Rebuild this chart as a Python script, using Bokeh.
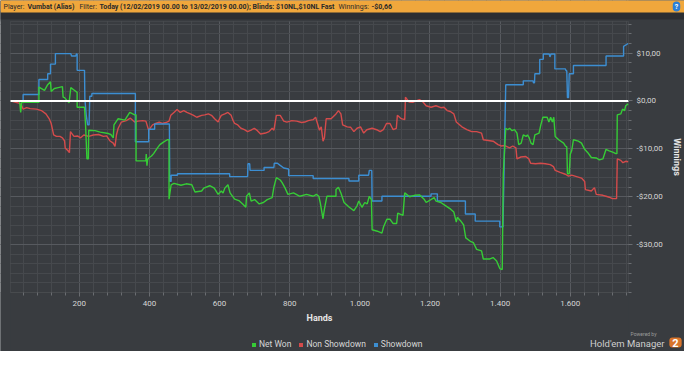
from bokeh.plotting import figure
from bokeh.models import Range1d, FixedTicker, Legend, LegendItem, Label, BoxAnnotation
from bokeh.embed import file_html
from bokeh.resources import INLINE

# ---------------- data ----------------
showdown_hands = [6, 40, 40, 85, 85, 110, 110, 118, 118, 132, 132, 176, 178, 190, 192, 194, 194, 215, 216, 220,
                  224, 228, 230, 236, 236, 360, 360, 398, 398, 415, 415, 457, 458, 462, 462, 480, 480, 629, 629, 680,
                  681, 686, 687, 727, 727, 755, 756, 765, 772, 783, 797, 797, 867, 867, 969, 969, 997, 997, 1025, 1027,
                  1034, 1035, 1063, 1063, 1203, 1203, 1221, 1221, 1301, 1301, 1329, 1329, 1399, 1399, 1408, 1416, 1466,
                  1466, 1494, 1495, 1498, 1499, 1513, 1513, 1523, 1523, 1540, 1542, 1545, 1556, 1556, 1586, 1588, 1590,
                  1592, 1595, 1597, 1609, 1609, 1702, 1702, 1752, 1752, 1765]
showdown_won = [0, 0, 1.35, 1.35, 4.5, 4.5, 5.7, 5.7, 7.7, 7.7, 9.9, 9.9, 9.4, 9.4, 9.8, 9.8, 6.4, 6.4, 0.5, -3,
                -5, -5, 1, 1, 1.55, 1.55, -8.5, -8.5, -5.9, -5.9, -4.8, -4.8, -16.8, -16.8, -15.5, -15.5, -15.2, -15.2, -15.8, -15.8,
                -13.1, -13.1, -14.5, -14.5, -13.9, -13.9, -13.0, -13.0, -13.4, -14.0, -14.2, -15.6, -15.6, -16.2, -16.2, -16.7, -16.7, -15.5, -15.5, -14.5,
                -14.5, -20.9, -20.9, -19.9, -19.9, -19.4, -19.4, -20.9, -20.9, -23.6, -23.6, -25.1, -25.1, -26.3, -26.3, 3.4, 3.4,
                4.2, 4.2, 3.8, 3.8, 5.7, 5.7, 8.7, 8.7, 9.8, 9.8, 9.2, 9.8, 9.8, 6.7, 6.7, 6.3, 6.3,
                0.7, 0.7, 5.7, 5.7, 7.4, 7.4, 9.4, 9.4, 11.4, 12.0]

net_hands = [6, 30, 33, 36, 85, 85, 101, 110, 118, 120, 129, 140, 152, 154, 158, 171, 176, 185, 194, 194,
             215, 218, 222, 226, 227, 245, 260, 283, 290, 297, 299, 311, 330, 344, 358, 362, 362, 390, 391, 393,
             395, 400, 406, 412, 423, 430, 440, 451, 456, 456, 462, 470, 490, 505, 521, 530, 549, 555, 572, 585,
             596, 605, 610, 615, 624, 630, 643, 655, 666, 675, 677, 685, 690, 700, 713, 725, 736, 750, 755, 762,
             773, 778, 787, 795, 811, 829, 848, 867, 876, 883, 887, 895, 899, 906, 932, 932, 939, 946, 955, 970,
             983, 992, 997, 1006, 1014, 1021, 1027, 1033, 1035, 1050, 1063, 1068, 1077, 1086, 1095, 1105, 1108, 1123, 1128, 1142,
             1156, 1170, 1184, 1189, 1212, 1217, 1231, 1245, 1259, 1268, 1275, 1278, 1287, 1296, 1302, 1315, 1324, 1333, 1347, 1352,
             1371, 1380, 1390, 1399, 1406, 1409, 1416, 1422, 1427, 1434, 1441, 1448, 1453, 1460, 1466, 1474, 1478, 1483, 1488, 1494,
             1499, 1511, 1516, 1522, 1534, 1539, 1544, 1549, 1553, 1557, 1567, 1581, 1586, 1590, 1592, 1597, 1600, 1604, 1609, 1623,
             1632, 1641, 1650, 1660, 1674, 1683, 1693, 1702, 1711, 1721, 1730, 1733, 1734, 1744, 1749, 1755, 1758, 1765]
net_won = [0, 0, -2.4, -0.3, -0.3, 2.9, 2.2, 3.4, 4.0, 2.0, 2.6, 2.8, 3.0, 0.8, 0.7, -0.4, 2.8, 2.3, 1.8, -1.3,
           -1.3, -5.0, -12.1, -12.1, -6.1, -6.2, -6.5, -6.8, -7.0, -7.7, -5.0, -3.7, -4.0, -2.4, -2.9, -2.9, -12.5, -12.5, -11.1, -13.5,
           -12.2, -11.8, -11.5, -11.0, -9.8, -9.1, -8.6, -8.1, -8.1, -20.5, -17.5, -17.2, -17.6, -17.3, -17.5, -19.0, -18.8, -18.2, -17.7, -18.2,
           -19.5, -18.8, -19.2, -18.2, -17.5, -19.2, -20.5, -20.8, -21.5, -22.2, -19.9, -19.2, -20.9, -20.6, -21.5, -21.2, -20.6, -20.2, -18.0, -16.0,
           -16.5, -17.0, -18.2, -19.5, -19.2, -19.9, -19.5, -19.9, -19.5, -19.9, -21.2, -24.6, -22.6, -19.9, -19.9, -18.5, -18.0, -19.2, -21.2, -22.2,
           -22.9, -21.9, -20.9, -22.2, -21.2, -21.5, -19.9, -20.6, -26.9, -27.2, -27.6, -26.2, -24.7, -24.7, -25.6, -25.6, -23.4, -23.9, -19.2, -20.0,
           -19.7, -19.6, -20.6, -21.2, -20.2, -20.9, -21.2, -21.9, -22.6, -23.2, -25.3, -24.3, -25.0, -25.9, -28.6, -29.3, -29.6, -31.0, -31.3, -33.0,
           -33.0, -32.7, -33.4, -35.0, -35.2, -15.2, -5.7, -6.0, -5.7, -6.2, -6.0, -6.7, -9.1, -8.8, -7.1, -7.4, -7.1, -7.7, -8.8, -9.1,
           -7.1, -6.7, -5.0, -3.4, -3.4, -4.4, -3.4, -4.4, -3.4, -7.4, -8.1, -8.8, -9.4, -9.6, -15.2, -15.2, -11.1, -10.4, -8.1, -8.4,
           -8.8, -10.1, -10.8, -11.8, -11.9, -12.3, -12.1, -10.1, -10.4, -10.7, -11.0, -11.0, -2.9, -2.7, -1.7, -2.0, -1.0, -0.6]

nonsd_hands = [6, 30, 36, 40, 50, 60, 78, 92, 105, 115, 120, 127, 135, 145, 152, 158, 160, 168, 172, 175,
               178, 185, 195, 204, 213, 227, 240, 255, 269, 278, 287, 297, 302, 306, 311, 320, 334, 346, 358, 367,
               381, 390, 398, 409, 418, 428, 437, 447, 456, 461, 470, 479, 488, 498, 507, 517, 526, 535, 549, 558,
               568, 577, 586, 596, 600, 605, 615, 624, 633, 638, 643, 652, 661, 671, 680, 690, 699, 708, 717, 731,
               741, 750, 755, 762, 773, 783, 792, 806, 820, 834, 843, 853, 867, 874, 878, 885, 890, 895, 899, 904,
               918, 932, 939, 946, 951, 964, 974, 983, 992, 1002, 1011, 1020, 1035, 1048, 1058, 1067, 1076, 1086, 1095, 1104,
               1107, 1118, 1128, 1130, 1140, 1151, 1160, 1170, 1180, 1189, 1203, 1217, 1231, 1240, 1249, 1258, 1268, 1275, 1280, 1291,
               1305, 1319, 1333, 1347, 1352, 1371, 1380, 1394, 1403, 1413, 1427, 1436, 1445, 1448, 1459, 1473, 1482, 1487, 1501, 1515,
               1529, 1543, 1552, 1557, 1571, 1586, 1595, 1604, 1618, 1632, 1641, 1643, 1660, 1669, 1674, 1693, 1702, 1711, 1720, 1732,
               1734, 1744, 1750, 1758, 1765]
nonsd_won = [0, -0.5, -1.0, -1.7, -1.4, -1.6, -1.7, -2.0, -2.7, -3.8, -4.7, -7.1, -7.4, -7.4, -7.7, -8.3, -9.8, -10.4, -10.8, -6.4,
             -6.7, -7.4, -7.3, -7.7, -7.1, -7.4, -7.1, -7.0, -7.4, -7.3, -8.3, -8.8, -9.5, -7.1, -5.7, -4.4, -4.1, -3.6, -4.4, -4.2,
             -4.1, -4.2, -6.1, -5.0, -4.7, -4.4, -4.7, -4.5, -4.2, -3.0, -2.4, -1.8, -2.4, -2.0, -2.4, -2.7, -3.0, -3.4, -3.0, -2.9,
             -2.7, -3.0, -3.7, -4.4, -3.7, -3.0, -2.7, -2.4, -3.0, -4.0, -4.7, -5.0, -5.7, -6.0, -6.4, -6.1, -5.7, -6.2, -6.9, -6.7,
             -6.4, -5.7, -6.1, -3.0, -3.0, -4.2, -4.4, -4.1, -4.2, -4.5, -4.4, -4.1, -3.9, -3.4, -4.4, -6.1, -5.4, -8.4, -7.7, -3.7,
             -3.7, -2.7, -2.0, -2.7, -5.0, -5.4, -5.5, -6.4, -5.7, -5.4, -6.7, -6.0, -5.7, -6.0, -6.4, -6.0, -4.7, -4.7, -6.0, -5.7,
             -3.0, -3.7, -3.9, 0.8, -0.2, -0.3, 0.0, 0.3, -0.2, -1.0, -1.3, -1.0, -1.4, -1.3, -2.0, -2.2, -2.7, -4.4, -4.7, -5.4,
             -6.0, -6.4, -6.4, -6.7, -8.1, -8.3, -8.4, -9.1, -9.4, -9.3, -9.8, -9.4, -9.8, -12.1, -11.7, -11.6, -12.1, -13.0, -13.1, -13.0,
             -13.1, -13.3, -13.7, -14.5, -14.9, -15.3, -15.7, -15.5, -15.8, -16.1, -16.8, -18.5, -18.8, -18.1, -19.5, -19.7, -19.9, -20.1, -20.4, -20.4,
             -12.1, -12.4, -12.9, -12.6, -12.7]

series_names = ["Net Won", "Non Showdown", "Showdown"]
x_ticks = [200, 400, 600, 800, 1000, 1200, 1400, 1600]
x_tick_labels = ["200", "400", "600", "800", "1.000", "1.200", "1.400", "1.600"]
y_ticks = [-30, -20, -10, 0, 10]
y_tick_labels = ["-$30,00", "-$20,00", "-$10,00", "$0,00", "$10,00"]

# ---------------- style / layout ----------------
BG = "#393c40"
STRIP = "#2c2e32"
ORANGE = "#f0a73c"
GREEN = "#36cc36"
RED = "#d44b4b"
BLUE = "#3c8ed2"
TXT = "#d6d6d6"
FONT = "Roboto"

W, H = 684, 351                       # canvas
CL, CR, CT, CB = 10, 628, 21, 292     # chart box in canvas pixels
X_LO, X_HI, Y_LO, Y_HI = 4, 1766, -40, 16.6
xpp = (X_HI - X_LO) / (CR - CL)
ypp = (Y_HI - Y_LO) / (CB - CT)

p = figure(frame_width=W, frame_height=H,
           x_range=Range1d(X_LO - CL * xpp, X_HI + (W - CR) * xpp),
           y_range=Range1d(Y_LO - (H - CB) * ypp, Y_HI + CT * ypp),
           toolbar_location=None, output_backend="svg", y_axis_location="right", min_border=0)
p.background_fill_color = BG
p.border_fill_color = BG
p.outline_line_color = None

x_minor = list(range(40, 1761, 40))
y_minor = list(range(-40, 17, 2))
p.xaxis.ticker = FixedTicker(ticks=x_ticks, minor_ticks=x_minor)
p.yaxis.ticker = FixedTicker(ticks=y_ticks, minor_ticks=y_minor)
p.xaxis.major_label_overrides = dict(zip(x_ticks, x_tick_labels))
p.yaxis.major_label_overrides = dict(zip(y_ticks, y_tick_labels))
p.xaxis.fixed_location = Y_LO
p.yaxis.fixed_location = X_HI
p.xaxis.bounds = (X_LO, X_HI)
p.yaxis.bounds = (Y_LO, Y_HI)

for g in (p.xgrid, p.ygrid):
    g.grid_line_color = "#575a5f"
    g.minor_grid_line_color = "#46494d"

# mask grid outside the chart box, then draw the chart border
for kw in (dict(bottom=Y_HI), dict(top=Y_LO), dict(right=X_LO), dict(left=X_HI)):
    p.add_layout(BoxAnnotation(fill_color=BG, fill_alpha=1, line_color=None, level="underlay", **kw))
p.add_layout(BoxAnnotation(left=X_LO, right=X_HI, bottom=Y_LO, top=Y_HI, fill_alpha=0,
                           line_color="#5c5f63", line_width=1, level="underlay"))

for ax in (p.xaxis, p.yaxis):
    ax.axis_line_color = None
    ax.major_tick_line_color = "#6a6d71"
    ax.minor_tick_line_color = "#6a6d71"
    ax.major_tick_in = 0
    ax.minor_tick_in = 0
    ax.major_tick_out = 4
    ax.minor_tick_out = 3
    ax.major_label_text_color = TXT
    ax.major_label_text_font = FONT
    ax.major_label_text_font_size = "8px"
    ax.axis_label_text_color = "#e6e6e6"
    ax.axis_label_text_font = FONT
    ax.axis_label_text_font_size = "9px"
    ax.axis_label_text_font_style = "bold"

p.xaxis.axis_label = "Hands"
p.xaxis.major_label_standoff = 4
p.xaxis.axis_label_standoff = 4
p.yaxis.axis_label = "Winnings"
p.yaxis.major_label_standoff = 4
p.yaxis.axis_label_standoff = 6

p.line(nonsd_hands, nonsd_won, line_color=RED, line_width=1.4)
p.line(showdown_hands, showdown_won, line_color=BLUE, line_width=1.4)
p.line(net_hands, net_won, line_color=GREEN, line_width=1.4)
p.line([X_LO, X_HI], [0, 0], line_color="white", line_width=2)

# legend swatches: zero-area quads at each series' last point (invisible on the chart)
sq = []
for name, col, hx, wy in zip(series_names, [GREEN, RED, BLUE],
                             [net_hands, nonsd_hands, showdown_hands], [net_won, nonsd_won, showdown_won]):
    r = p.quad(left=[hx[-1]], right=[hx[-1]], bottom=[wy[-1]], top=[wy[-1]],
               fill_color=col, line_color=None)
    sq.append(LegendItem(label=name, renderers=[r]))
legend = Legend(items=sq, orientation="horizontal", location=(251, 2),
                background_fill_alpha=0, border_line_color=None,
                label_text_color=TXT, label_text_font=FONT, label_text_font_size="8.5px",
                glyph_width=5, glyph_height=5, label_height=10, label_width=10,
                label_standoff=3, spacing=7, padding=2, margin=0)
p.add_layout(legend)

# ---- header bar ----
p.add_layout(Label(x=0, y=H - 19, x_units="screen", y_units="screen", text=" ",
                   text_font_size="1px", background_fill_color=STRIP,
                   padding=dict(left=0, right=W + 10, top=7, bottom=0)))
p.add_layout(Label(x=0, y=H - 12, x_units="screen", y_units="screen", text=" ",
                   text_font_size="1px", background_fill_color=ORANGE,
                   padding=dict(left=0, right=W + 10, top=14, bottom=0)))
header_parts = [
    (3, "Player:", "normal"),
    (27, "Vumbat (Alias)", "bold"),
    (79, "Filter:", "normal"),
    (99, "Today (12/02/2019 00.00 to 13/02/2019 00.00); Blinds: $10NL,$10NL Fast", "bold"),
    (338, "Winnings:", "normal"),
    (371, "-$0,66", "bold"),
]
for hx, htxt, hstyle in header_parts:
    p.add_layout(Label(x=hx, y=H - 6, x_units="screen", y_units="screen", text=htxt,
                       text_font=FONT, text_font_size="7px", text_font_style=hstyle,
                       text_color="#2a2a2a", text_baseline="middle"))
p.add_layout(Label(x=676, y=H - 6, x_units="screen", y_units="screen", text="?",
                   text_font=FONT, text_font_size="7px", text_font_style="bold", text_color="white",
                   text_align="center", text_baseline="middle", background_fill_color="#2b7fd6",
                   padding=dict(left=2, right=2, top=1, bottom=1), border_radius=5))

# ---- logo (bottom right) ----
p.add_layout(Label(x=656, y=18, x_units="screen", y_units="screen", text="Powered by",
                   text_font=FONT, text_font_size="5px", text_color="#9c9c9c", text_align="right",
                   text_baseline="middle"))
p.add_layout(Label(x=664, y=8, x_units="screen", y_units="screen", text="Hold'em Manager",
                   text_font=FONT, text_font_size="9.5px", text_color="#cfcfcf", text_align="right",
                   text_baseline="middle"))
p.add_layout(Label(x=675, y=9, x_units="screen", y_units="screen", text="2",
                   text_font=FONT, text_font_size="11px", text_font_style="bold", text_color="white",
                   text_align="center", text_baseline="middle", background_fill_color="#d9742a",
                   padding=dict(left=3, right=3, top=1, bottom=1), border_radius=3))

open("out.html", "w").write(file_html(p, INLINE))
